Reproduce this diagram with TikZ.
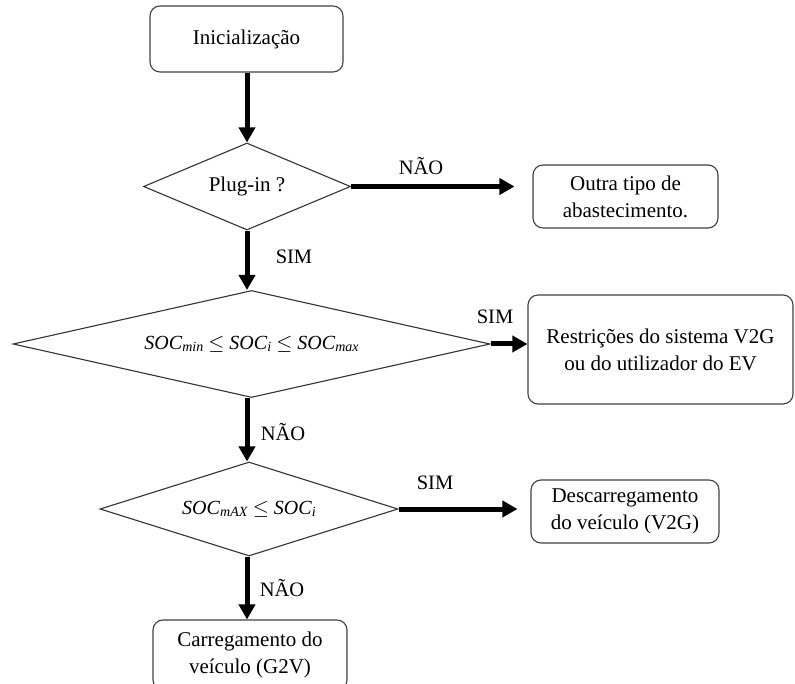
\documentclass[tikz,border=0pt]{standalone}
\usepackage{fontspec}
\setmainfont{Liberation Serif}
\usetikzlibrary{shapes.geometric,arrows.meta}

% state-of-charge symbol with a lowered italic subscript
\newcommand\socsym[1]{\textit{SOC}\raisebox{-0.3ex}{\fontsize{14}{16}\selectfont\textit{#1}}}
\newcommand\lesym{\ \ensuremath{\leq}\ }

\tikzset{
  box/.style={draw=black!75, line width=1.1pt, rounded corners=10pt, align=center,
    inner sep=0pt, font=\fontsize{21}{27}\selectfont},
  decision/.style={draw=black!80, line width=1.1pt, diamond, inner sep=0pt,
    font=\fontsize{20}{24}\selectfont},
  flow/.style={line width=5pt, -{Triangle[length=15pt,width=16pt]}},
  lbl/.style={font=\fontsize{20.5}{24}\selectfont, inner sep=0pt}
}

\begin{document}
\begin{tikzpicture}[x=1pt, y=-1pt]
  \useasboundingbox (0,0) rectangle (795,684);

  % process boxes
  \node[box, minimum width=193pt, minimum height=66pt] (init) at (246.5,39) {Inicialização};
  \node[box, minimum width=185pt, minimum height=63pt] (outra) at (625.5,196.5) {Outra tipo de\\abastecimento.};
  \node[box, minimum width=265pt, minimum height=109pt] (restr) at (660.5,349.5) {Restrições do sistema V2G\\ou do utilizador do EV};
  \node[box, minimum width=188pt, minimum height=63pt] (desc) at (625,511.5) {Descarregamento\\do veículo (V2G)};
  \node[box, minimum width=194pt, minimum height=70pt] (carr) at (250,655) {Carregamento do\\veículo (G2V)};

  % decisions
  \node[decision, aspect=2.38, minimum width=207pt, minimum height=87pt,
        font=\fontsize{21}{25}\selectfont] (plug) at (247,186.5) {Plug-in ?};
  \node[decision, aspect=4.46, minimum width=477pt, minimum height=107pt] (soc) at (251.5,344)
        {\socsym{min}\lesym\socsym{i}\lesym\socsym{max}};
  \node[decision, aspect=3.1, minimum width=298pt, minimum height=94pt] (socmax) at (249,509)
        {\socsym{mAX}\lesym\socsym{i}};

  % main flow
  \draw[flow] (init.south -| plug.north) -- (plug.north);
  \draw[flow] (plug.south) -- (soc.north -| plug.south);
  \draw[flow] (soc.south -| plug.south) -- (socmax.north -| plug.south);
  \draw[flow] (socmax.south -| plug.south) -- (carr.north -| plug.south);

  % branches
  \draw[flow, shorten >=18pt] (plug.east) -- (plug.east -| outra.west);
  \draw[flow] (soc.east) -- (soc.east -| restr.west);
  \draw[flow, shorten >=13pt] (socmax.east) -- (socmax.east -| desc.west);

  % branch labels
  \node[lbl] (l1) at (421,166) {NÃO};
  \node[lbl] (l2) at (294,257) {SIM};
  \node[lbl] (l3) at (495,317) {SIM};
  \node[lbl] (l4) at (283,432) {NÃO};
  \node[lbl] (l5) at (435,483) {SIM};
  \node[lbl] (l6) at (282,588) {NÃO};
\end{tikzpicture}
\end{document}
